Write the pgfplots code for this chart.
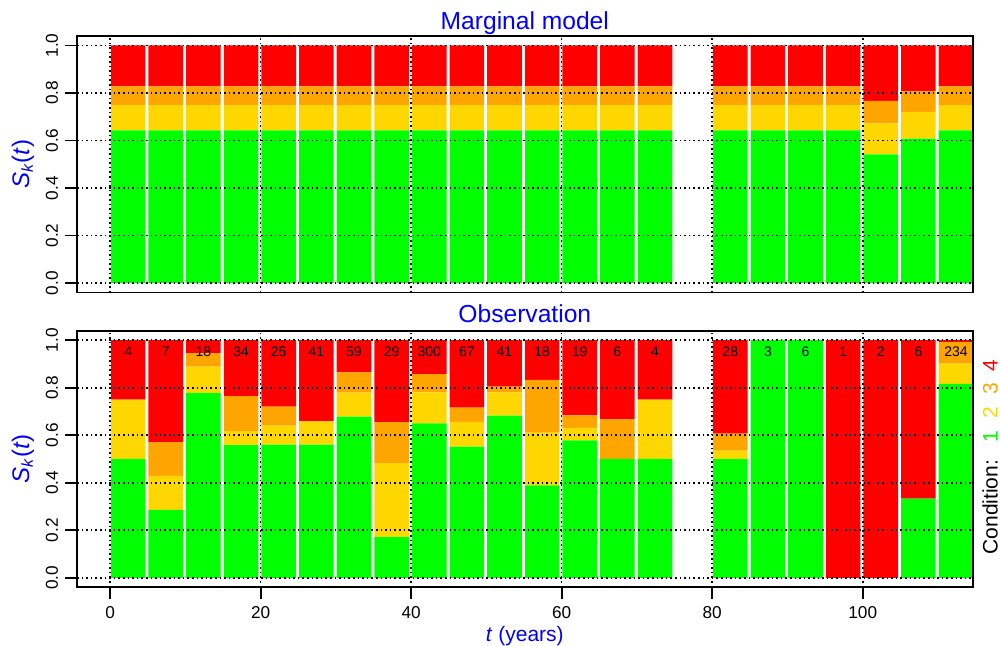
\documentclass[border=0pt]{standalone}
\usepackage{pgfplots}
\usepackage{pgfplotstable}
\pgfplotsset{compat=1.18}
\usepackage{fontspec}
\setmainfont{Liberation Sans}
\definecolor{cg}{HTML}{00FF00}
\definecolor{cy}{HTML}{FFD700}
\definecolor{co}{HTML}{FFA500}
\definecolor{cr}{HTML}{FF0000}

% Marginal model: segment heights (green, gold, orange, red); x = bar centre
\pgfplotstableread{
x     ca    cb    cc    cd
2.4   0.643 0.106 0.079 0.172
7.4   0.643 0.106 0.079 0.172
12.4  0.643 0.106 0.079 0.172
17.4  0.643 0.106 0.079 0.172
22.4  0.643 0.106 0.079 0.172
27.4  0.643 0.106 0.079 0.172
32.4  0.643 0.106 0.079 0.172
37.4  0.643 0.106 0.079 0.172
42.4  0.643 0.106 0.079 0.172
47.4  0.643 0.106 0.079 0.172
52.4  0.643 0.106 0.079 0.172
57.4  0.643 0.106 0.079 0.172
62.4  0.643 0.106 0.079 0.172
67.4  0.643 0.106 0.079 0.172
72.4  0.643 0.106 0.079 0.172
82.4  0.643 0.106 0.079 0.172
87.4  0.643 0.106 0.079 0.172
92.4  0.643 0.106 0.079 0.172
97.4  0.643 0.106 0.079 0.172
102.4 0.542 0.130 0.095 0.233
107.4 0.608 0.113 0.086 0.193
112.4 0.643 0.106 0.079 0.172
}\marg

% Observation: segment heights, bar top and number of observations
\pgfplotstableread{
x     ca     cb     cc     cd     top n
2.4   0.5    0.25   0      0.25   1   4
7.4   0.2857 0.1429 0.1429 0.4286 1   7
12.4  0.7778 0.1111 0.0556 0.0556 1   18
17.4  0.5588 0.0588 0.1471 0.2353 1   34
22.4  0.56   0.08   0.08   0.28   1   25
27.4  0.561  0.0976 0      0.3415 1   41
32.4  0.678  0.1017 0.0847 0.1356 1   59
37.4  0.1724 0.3103 0.1724 0.3448 1   29
42.4  0.65   0.13   0.0767 0.1433 1   300
47.4  0.5522 0.1045 0.0597 0.2836 1   67
52.4  0.6829 0.0976 0.0244 0.1951 1   41
57.4  0.3889 0.2222 0.2222 0.1667 1   18
62.4  0.5789 0.0526 0.0526 0.3158 1   19
67.4  0.5    0      0.1667 0.3333 1   6
72.4  0.5    0.25   0      0.25   1   4
82.4  0.5    0.0357 0.0714 0.3929 1   28
87.4  1      0      0      0      1   3
92.4  1      0      0      0      1   6
97.4  0      0      0      1      1   1
102.4 0      0      0      1      1   2
107.4 0.3333 0      0      0.6667 1   6
112.4 0.8162 0.0855 0.0897 0.0085 1   234
}\obs

\pgfplotsset{
  /pgf/number format/assume math mode=true,
  geom/.style={
    scale only axis, width=447.8pt, height=128.3pt,
    xmin=-4.4, xmax=114.6, ymin=-0.04, ymax=1.04,
  },
  panel/.style={
    geom,
    ybar stacked, bar width=4.6,
    axis on top,
    tick pos=left, tick align=outside,
    major tick length=6pt,
    xtick={0,20,40,60,80,100}, ytick={0,0.2,0.4,0.6,0.8,1},
    grid=major,
    major grid style={black, line width=0.8pt, dash pattern=on 0.8pt off 1.5pt},
    axis line style={line width=0.9pt},
    every tick/.style={black, line width=0.9pt},
    yticklabel style={rotate=90, anchor=south, font=\fontsize{8.6}{10}\selectfont,
      /pgf/number format/.cd, fixed, fixed zerofill, precision=1},
    xticklabel style={font=\fontsize{8.6}{10}\selectfont},
    title style={font=\fontsize{12.3}{14}\selectfont, text=blue, at={(0.5,1)}, anchor=base},
    ylabel={\textit{S}\textsubscript{\textit{k}}(\textit{t})},
    every axis y label/.style={at={(axis description cs:-0.0603,0.5)}, rotate=90, anchor=center,
      font=\fontsize{12}{14}\selectfont, text=blue},
  }
}

\begin{document}
\begin{tikzpicture}
\useasboundingbox (0,0) rectangle (500pt,323pt);

\begin{axis}[panel, at={(38.5pt,176.7pt)}, anchor=south west,
  title={Marginal model}, title style={yshift=-2.6pt},
  xticklabels={}, xtick style={draw=none}]
\addplot[fill=cg, draw=none] table[x=x,y=ca]{\marg};
\addplot[fill=cy, draw=none] table[x=x,y=cb]{\marg};
\addplot[fill=co, draw=none] table[x=x,y=cc]{\marg};
\addplot[fill=cr, draw=none] table[x=x,y=cd]{\marg};
\end{axis}

\begin{axis}[panel, at={(38.5pt,29.35pt)}, anchor=south west,
  title={Observation}, title style={yshift=-2.1pt},
  xlabel={\textit{t} (years)},
  every axis x label/.style={at={(axis description cs:0.5,0)}, anchor=base, yshift=-27.1pt,
    font=\fontsize{10.5}{12}\selectfont, text=blue}]
\addplot[fill=cg, draw=none] table[x=x,y=ca]{\obs};
\addplot[fill=cy, draw=none] table[x=x,y=cb]{\obs};
\addplot[fill=co, draw=none] table[x=x,y=cc]{\obs};
\addplot[fill=cr, draw=none] table[x=x,y=cd]{\obs};
\end{axis}

% counts written near the top of each observation bar
\begin{axis}[geom, at={(38.5pt,29.35pt)}, anchor=south west, hide axis, clip=false]
\addplot[only marks, mark=none, nodes near coords, point meta=explicit symbolic,
  every node near coord/.append style={anchor=base, yshift=-8.4pt, inner sep=0pt,
    font=\fontsize{7}{8}\selectfont, text=black}]
  table[x=x,y=top,meta=n]{\obs};
\end{axis}

\node[rotate=90, anchor=base, font=\fontsize{10.5}{12}\selectfont] at (498.8pt,94.5pt)
  {Condition:\hspace{0.85em}\textcolor{cg}{1}\hspace{0.57em}\textcolor{cy}{2}\hspace{0.57em}\textcolor{co}{3}\hspace{0.57em}\textcolor{cr}{4}};
\end{tikzpicture}
\end{document}
